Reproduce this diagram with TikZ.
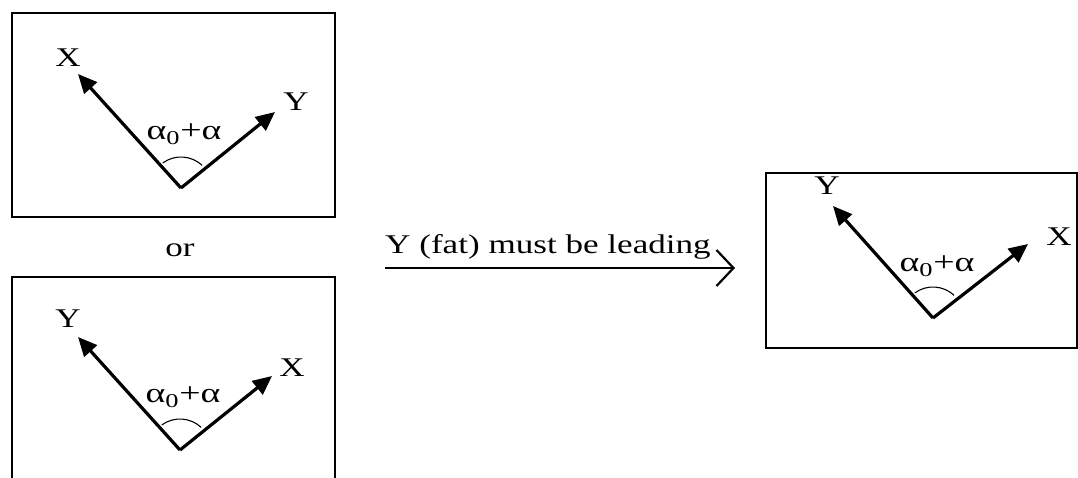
\documentclass[tikz,border=0pt]{standalone}
\usepackage{fontspec}
\setmainfont{Liberation Serif}
\usetikzlibrary{arrows.meta}
\newcommand{\widetext}[1]{\scalebox{1.3}[1]{#1}}
\begin{document}
\begin{tikzpicture}[x=1pt,y=-1pt,
  frame/.style={draw, line width=1.2pt},
  vec/.style={line width=3.2pt, -{Triangle[length=19pt,width=17pt]}},
  arcline/.style={line width=1.1pt},
  lbl/.style={font=\fontsize{27}{30}\selectfont, inner sep=0pt},
  ang/.style={font=\fontsize{28}{30}\selectfont, inner sep=0pt},
  lead/.style={line width=2.2pt, -{Straight Barb[length=17pt,width=36pt,line width=2.2pt]}}
]
\useasboundingbox (0,0) rectangle (1078,477);
% box 1
\draw[frame] (12,13) rectangle (335,217);
\coordinate (v1) at (181,188);
\coordinate (x1) at (78,74);
\coordinate (y1) at (275,112);
\draw[vec] (v1) -- (x1);
\draw[vec] (v1) -- (y1);
\draw[arcline] (v1) ++(126:31pt) arc[start angle=126,end angle=47,radius=31pt];
\node[lbl] (lx1) at (68,58) {\widetext{X}};
\node[lbl] (ly1) at (296,102) {\widetext{Y}};
\node[ang] (a1) at (184,134) {\scalebox{1.35}[1]{α\textsubscript{0}+α}};
% or
\node[lbl] (or) at (180,250) {\widetext{or}};
% box 2
\draw[frame] (12,277) rectangle (335,490);
\coordinate (v2) at (180,450);
\coordinate (y2) at (78,337);
\coordinate (x2) at (272,376);
\draw[vec] (v2) -- (y2);
\draw[vec] (v2) -- (x2);
\draw[arcline] (v2) ++(126:31pt) arc[start angle=126,end angle=47,radius=31pt];
\node[lbl] (ly2) at (68,319) {\widetext{Y}};
\node[lbl] (lx2) at (292,368) {\widetext{X}};
\node[ang] (a2) at (183,397) {\scalebox{1.35}[1]{α\textsubscript{0}+α}};
% main arrow
\coordinate (as) at (385,268);
\coordinate (ae) at (735,268);
\draw[lead] (as) -- (ae);
\node[lbl, anchor=base west] (lead) at (385,253) {\widetext{Y (fat) must be leading}};
% box 3
\draw[frame] (766,173) rectangle (1077,348);
\coordinate (v3) at (933,318);
\coordinate (y3) at (833,206);
\coordinate (x3) at (1028,244);
\draw[vec] (v3) -- (y3);
\draw[vec] (v3) -- (x3);
\draw[arcline] (v3) ++(126:31pt) arc[start angle=126,end angle=47,radius=31pt];
\node[lbl] (ly3) at (827,186) {\widetext{Y}};
\node[lbl] (lx3) at (1059,237) {\widetext{X}};
\node[ang] (a3) at (937,266) {\scalebox{1.35}[1]{α\textsubscript{0}+α}};
\end{tikzpicture}
\end{document}
